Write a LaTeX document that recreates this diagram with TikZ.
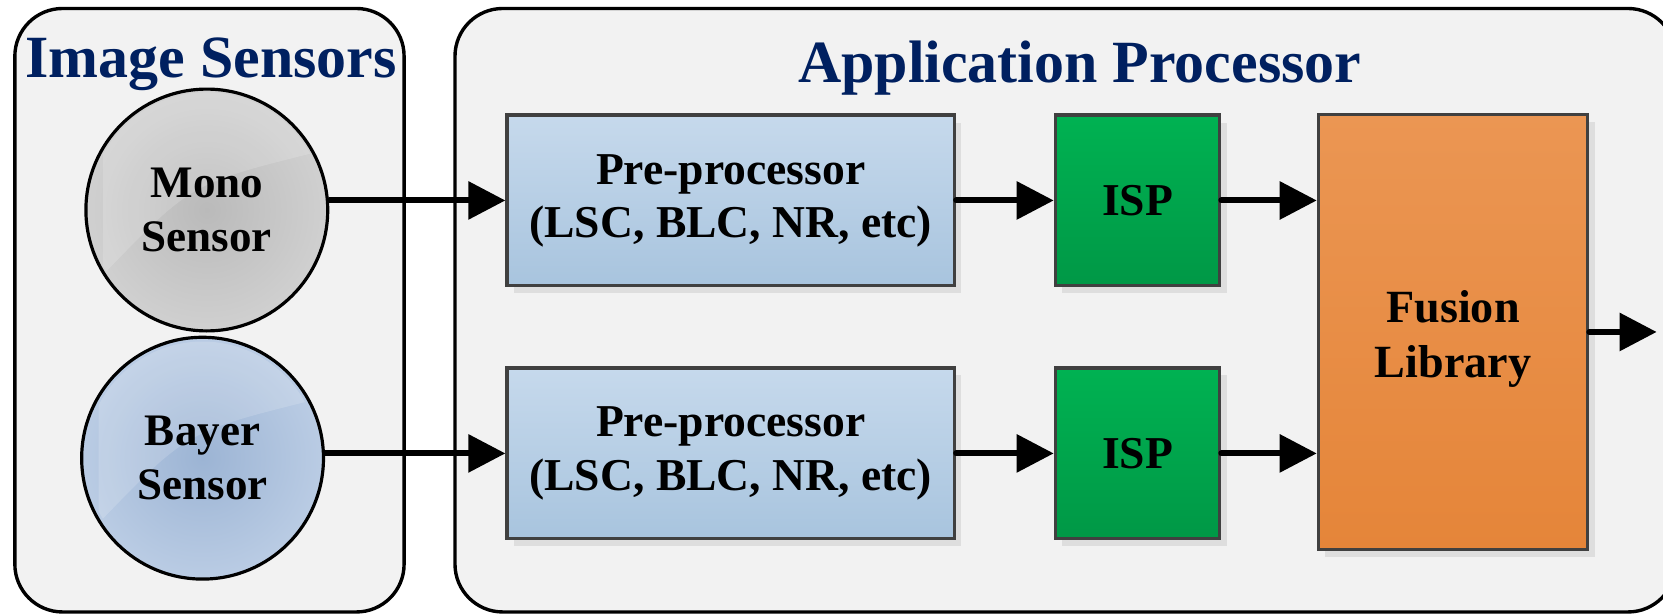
\documentclass[tikz,border=0pt]{standalone}
\usepackage{fontspec}
\setmainfont{Liberation Serif}
\usetikzlibrary{arrows.meta,shadows,calc}
\definecolor{navy}{RGB}{0,32,96}
\definecolor{contfill}{RGB}{242,242,242}
\definecolor{boxline}{RGB}{64,64,64}
\definecolor{shadowc}{RGB}{222,222,222}
\definecolor{preTop}{RGB}{198,217,236}
\definecolor{preBot}{RGB}{168,196,222}
\definecolor{ispTop}{RGB}{0,178,82}
\definecolor{ispBot}{RGB}{0,152,70}
\definecolor{fusTop}{RGB}{235,150,83}
\definecolor{fusBot}{RGB}{229,133,57}
\definecolor{monoIn}{RGB}{186,186,186}
\definecolor{monoOut}{RGB}{208,208,208}
\definecolor{bayIn}{RGB}{156,180,212}
\definecolor{bayOut}{RGB}{186,204,228}
\tikzset{
  container/.style={fill=contfill, draw=black, line width=3.2pt, rounded corners=45pt},
  titletext/.style={text=navy, font=\fontsize{56.5}{60}\selectfont\bfseries, anchor=base, inner sep=0pt},
  lbl/.style={align=center, font=\fontsize{42.5}{51}\selectfont\bfseries, inner sep=0pt},
  procbox/.style={rectangle, draw=boxline, line width=3pt, align=center,
    font=\fontsize{43}{50}\selectfont\bfseries, inner sep=0pt,
    drop shadow={shadow xshift=6.5pt, shadow yshift=-7pt, fill=shadowc, opacity=1}},
  prebox/.style={procbox, top color=preTop, bottom color=preBot, minimum width=422pt, minimum height=161pt},
  ispbox/.style={procbox, top color=ispTop, bottom color=ispBot, minimum width=155pt, minimum height=161pt},
  fusbox/.style={procbox, top color=fusTop, bottom color=fusBot, minimum width=254pt, minimum height=410pt},
  sensor/.style={circle, draw=black, line width=3pt, minimum size=228pt, inner sep=0pt},
  arr/.style={line width=5.6pt, line cap=round, -{Triangle[length=35pt,width=35pt]}},
}
\begin{document}
\begin{tikzpicture}[x=1pt,y=-1pt]
\useasboundingbox (0,0) rectangle (1568,579);
\clip (0,0) rectangle (1568,579);
\fill[white] (0,0) rectangle (1568,579);
% containers
\draw[container] (14,8) rectangle (381,577);
\draw[container] (429,8) rectangle (1580,577);
\node[titletext] (t1) at (199,73) {Image Sensors};
\node[titletext] (t2) at (1018,78) {Application Processor};
% sensors
\node[sensor, shade, inner color=monoIn, outer color=monoOut] (mono) at (195,198) {};
\node[sensor, shade, inner color=bayIn, outer color=bayOut] (bayer) at (191,432) {};
\begin{scope}
\clip (mono.center) circle[radius=111];
\fill[white, opacity=0.16] (mono.212) .. controls ($(mono.center)+(-15,-25)$) .. (mono.28) -- ($(mono.28)+(0,-160)$) -- ($(mono.212)+(0,-300)$) -- cycle;
\end{scope}
\begin{scope}
\clip (bayer.center) circle[radius=110];
\fill[white, opacity=0.16] (bayer.212) .. controls ($(bayer.center)+(-15,-25)$) .. (bayer.28) -- ($(bayer.28)+(0,-160)$) -- ($(bayer.212)+(0,-300)$) -- cycle;
\end{scope}
\node[lbl] (monotext) at (mono) {Mono\\Sensor};
\node[lbl] (bayertext) at (bayer) {Bayer\\Sensor};
% processing boxes
\node[prebox] (pre1) at (689,189) {Pre-processor\\(LSC, BLC, NR, etc)};
\node[prebox] (pre2) at (689,427.5) {Pre-processor\\(LSC, BLC, NR, etc)};
\node[ispbox] (isp1) at (1072.5,189) {\raisebox{-3pt}{ISP}};
\node[ispbox] (isp2) at (1072.5,427.5) {\raisebox{-3pt}{ISP}};
\node[fusbox] (fus) at (1370,313) {};
\node[lbl, font=\fontsize{43.5}{52}\selectfont\bfseries] (fustext) at ($(fus.center)+(0,7)$) {Fusion\\Library};
\coordinate (out) at (1562,313);
% connectors
\draw[arr] (mono.east |- pre1.west) -- (pre1.west);
\draw[arr] (bayer.east |- pre2.west) -- (pre2.west);
\draw[arr] (pre1.east) -- (isp1.west);
\draw[arr] (pre2.east) -- (isp2.west);
\draw[arr] (isp1.east) -- (isp1.east -| fus.west);
\draw[arr] (isp2.east) -- (isp2.east -| fus.west);
\draw[arr] (fus.east) -- (out);
\end{tikzpicture}
\end{document}
